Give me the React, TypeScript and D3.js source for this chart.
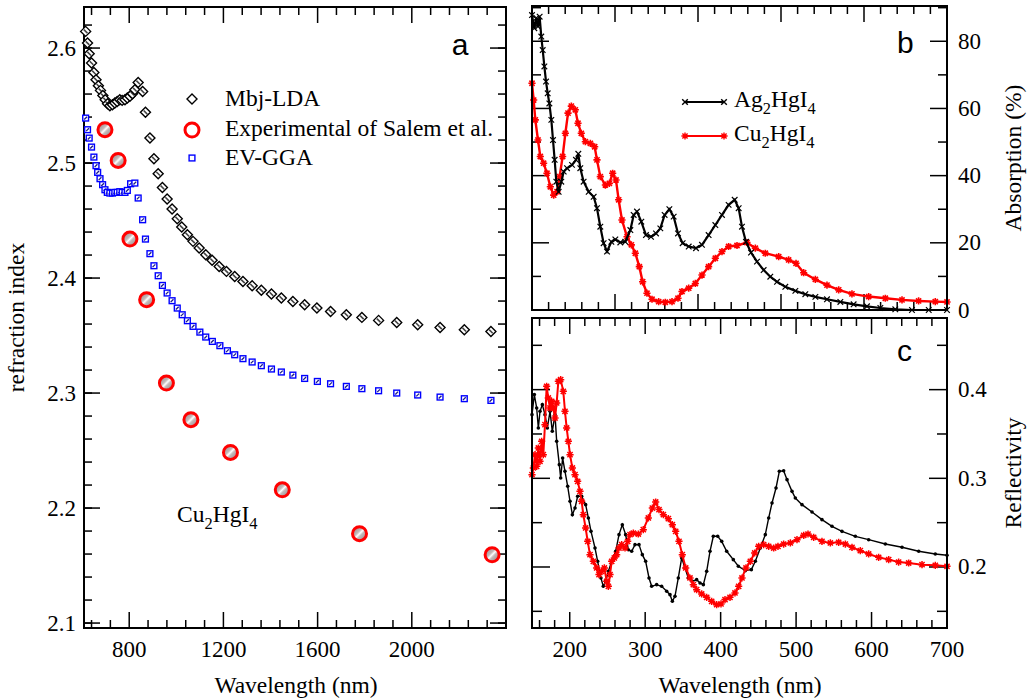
import React, { useEffect, useRef } from 'react';
import * as d3 from 'd3';

// ---- panel a: refraction index of Cu2HgI4 vs wavelength (nm)
const mbjLda: [number, number][] = [
  [615, 2.6145], [623, 2.6043], [630, 2.5951], [640, 2.587], [650, 2.5788], [659, 2.5725],
  [669, 2.5672], [678, 2.5632], [688, 2.5588], [698, 2.5551], [708, 2.5516], [718, 2.5499],
  [729, 2.5507], [739, 2.5522], [749, 2.5536], [760, 2.5551], [770, 2.5545], [782, 2.5551],
  [792, 2.5565], [803, 2.558], [814, 2.5603], [824, 2.5638], [838, 2.5701], [857, 2.5623],
  [869, 2.5441], [888, 2.5217], [905, 2.5038], [923, 2.4907], [941, 2.4788], [961, 2.4687],
  [982, 2.46], [1004, 2.4516], [1023, 2.4443], [1047, 2.4377], [1071, 2.4319], [1097, 2.4261],
  [1125, 2.4203], [1152, 2.4154], [1182, 2.4101], [1213, 2.4058], [1248, 2.4014], [1283, 2.3971],
  [1322, 2.3933], [1361, 2.3893], [1404, 2.3861], [1446, 2.3826], [1495, 2.3797], [1545, 2.3768],
  [1597, 2.3739], [1655, 2.371], [1722, 2.3681], [1788, 2.3658], [1859, 2.3632], [1936, 2.3614],
  [2025, 2.3594], [2120, 2.3571], [2223, 2.3551], [2336, 2.3536],
];

const evGga: [number, number][] = [
  [615, 2.5391], [623, 2.529], [630, 2.5217], [640, 2.5139], [650, 2.5052], [659, 2.4977],
  [666, 2.4919], [676, 2.4864], [687, 2.4812], [697, 2.4768], [707, 2.4745], [718, 2.4739],
  [729, 2.4739], [739, 2.4745], [749, 2.4745], [760, 2.4751], [770, 2.4745], [782, 2.4745],
  [792, 2.4762], [806, 2.482], [824, 2.4826], [838, 2.4696], [857, 2.4507], [869, 2.4339],
  [888, 2.4212], [905, 2.4107], [923, 2.402], [941, 2.3936], [961, 2.387], [982, 2.3803],
  [1004, 2.3739], [1025, 2.3681], [1047, 2.3629], [1071, 2.358], [1100, 2.353], [1125, 2.3487],
  [1153, 2.3449], [1185, 2.3412], [1217, 2.3368], [1248, 2.3333], [1283, 2.3299], [1322, 2.327],
  [1361, 2.3238], [1404, 2.3209], [1446, 2.3183], [1495, 2.3156], [1545, 2.3127], [1599, 2.3101],
  [1655, 2.3081], [1722, 2.3058], [1788, 2.3038], [1859, 2.302], [1936, 2.3], [2025, 2.2983],
  [2120, 2.2965], [2223, 2.2951], [2336, 2.2936],
];

const salemExp: [number, number][] = [
  [697, 2.529], [753, 2.5023], [803, 2.4339], [874, 2.3812], [958, 2.3087],
  [1062, 2.2768], [1230, 2.2484], [1450, 2.2159], [1778, 2.1777], [2341, 2.1594],
];

const aXMajor = [800, 1200, 1600, 2000];
const aYMajor = [2.1, 2.2, 2.3, 2.4, 2.5, 2.6];

// ---- panel b: absorption (%)
const absAg: [number, number][] = [
  [100, 87.8], [102.8, 83.9], [105.2, 86.9], [107.2, 84.4], [109.2, 87.3], [111.2, 81.4],
  [112.9, 77.4], [114.9, 72.5], [116.9, 68], [118.9, 64.5], [120.9, 61.5], [123.3, 56.6],
  [125.3, 50.6], [127.3, 44.7], [129.3, 38.2], [132.1, 35.2], [135.3, 38.2], [138.2, 41.2],
  [142.2, 42.2], [148.2, 43.2], [153, 44.7], [155.8, 46.5], [158.2, 42.2], [162.2, 38.2],
  [168.3, 35.2], [174.3, 33.7], [178.3, 30.3], [182.3, 24.8], [186.3, 19.9], [190.4, 17.4],
  [195.6, 20.3], [200.4, 21], [206.4, 20.1], [212.4, 20.3], [218.5, 23.8], [222.5, 28.3],
  [226.5, 29.3], [231.7, 26.3], [237.3, 22.3], [243.4, 21.8], [249.4, 22.8], [254.6, 24.3],
  [259.8, 28.3], [265.5, 30], [270.7, 27.8], [275.9, 22.8], [281.5, 19.9], [288.8, 18.9],
  [297.6, 18.4], [304.8, 19.4], [312.8, 22.3], [320.9, 25.3], [328.9, 28.3], [336.9, 31.3],
  [344.2, 32.8], [349, 30.3], [353, 24.8], [357.8, 20.3], [363.9, 17.1], [371.1, 14.4],
  [379.1, 11.9], [387.1, 9.9], [395.2, 8.4], [405.2, 6.9], [417.3, 5.7], [429.3, 4.7],
  [441.4, 3.9], [455.4, 3.2], [471.5, 2.4], [487.5, 1.7], [503.6, 1.1], [519.7, 0.6],
  [537.7, 0.2], [557.8, 0], [578, 0], [600, 0],
];

const absCu: [number, number][] = [
  [100, 67.5], [102, 62.5], [104, 56.6], [107.2, 50.6], [110, 45.7], [114, 43.7],
  [118, 40.7], [122.1, 36.7], [126.1, 34.2], [130.1, 35.2], [133.3, 39.7], [136.9, 45.7],
  [140.2, 52.6], [143.4, 58.6], [147.4, 60.7], [152.2, 59.6], [155.4, 55.6], [159.4, 52.6],
  [164.3, 50.1], [170.3, 49.6], [175.5, 48.6], [178.3, 44.7], [182.3, 39.7], [188.4, 37.2],
  [193.2, 37.7], [197.2, 40.7], [201.2, 38.7], [204.4, 32.8], [208.4, 26.8], [214.5, 21.8],
  [219.7, 19.4], [224.5, 16.9], [229.3, 12.9], [233.3, 8.4], [238.5, 5], [244.6, 3.2],
  [252.6, 2.5], [260.6, 2.3], [268.7, 2.5], [275.9, 3.5], [280.7, 5.5], [288.8, 6.5],
  [296.8, 7.9], [304.8, 10.4], [312.8, 12.9], [320.9, 15.4], [328.9, 17.4], [336.9, 18.9],
  [347, 19.2], [359, 20.1], [369.1, 18.4], [381.1, 16.9], [397.2, 15.9], [409.2, 14.9],
  [418.1, 13.9], [427.3, 11.1], [441.4, 9.1], [455.4, 7.4], [469.5, 6], [485.5, 4.8],
  [505.6, 4], [525.7, 3.5], [545.8, 3], [565.8, 2.7], [585.9, 2.5], [600, 2.4],
];

const bYMajor = [0, 20, 40, 60, 80];

// ---- panel c: reflectivity vs wavelength (nm)
const reflAg: [number, number][] = [
  [150, 0.3718], [153.1, 0.3944], [156.2, 0.3793], [158.4, 0.3568], [160.6, 0.3756], [163.7, 0.3831],
  [167.2, 0.3718], [170.3, 0.3568], [173.9, 0.3756], [176.9, 0.353], [180.5, 0.3718], [182.7, 0.3417],
  [186.2, 0.3154], [188, 0.3004], [190.6, 0.3229], [193.7, 0.3079], [197.3, 0.291], [200.4, 0.2741],
  [203.5, 0.259], [207, 0.2665], [210.5, 0.2797], [215.8, 0.2797], [221.1, 0.2703], [224.7, 0.2553],
  [228.2, 0.2402], [233.5, 0.2214], [237, 0.2064], [241.4, 0.1876], [244.5, 0.1782], [247.6, 0.1838],
  [251.2, 0.1951], [255.6, 0.2064], [260.9, 0.2177], [265.3, 0.2365], [269.7, 0.2477], [274.1, 0.2365],
  [277.7, 0.2195], [282.1, 0.2177], [286.5, 0.2252], [291.8, 0.2252], [296.2, 0.2139], [300.6, 0.2064],
  [305.1, 0.1876], [308.6, 0.1782], [315.2, 0.1801], [321.8, 0.1782], [328.5, 0.1726], [332.9, 0.1688],
  [336, 0.1613], [339.5, 0.1669], [343.9, 0.1876], [348.4, 0.2102], [352.8, 0.1989], [357.2, 0.1876],
  [362.5, 0.1838], [368.2, 0.1857], [372.7, 0.182], [377.1, 0.1801], [381.5, 0.1951], [385.9, 0.2177],
  [390.3, 0.2346], [396.1, 0.2346], [401.4, 0.2289], [408, 0.2177], [416.8, 0.2083], [423.5, 0.2008],
  [432.7, 0.1959], [440.7, 0.197], [446, 0.2064], [452.6, 0.2214], [459.2, 0.2365], [463.7, 0.2553],
  [468.1, 0.2722], [473.4, 0.2891], [477.8, 0.3079], [483.5, 0.3086], [488, 0.2985], [494.6, 0.2853],
  [499, 0.2778], [507.8, 0.2703], [521.1, 0.262], [534.3, 0.2534], [547.6, 0.2459], [560.8, 0.2402],
  [578.5, 0.2346], [596.2, 0.2308], [618.3, 0.2259], [640.4, 0.2222], [662.5, 0.2177], [684.5, 0.2147],
  [700, 0.2132],
];

const reflCu: [number, number][] = [
  [150, 0.3041], [151.8, 0.3117], [154, 0.3267], [156.2, 0.3135], [158.4, 0.3342], [160.6, 0.3192],
  [162.8, 0.3417], [165, 0.3267], [167.2, 0.3605], [169.4, 0.4038], [171.6, 0.3906], [173.9, 0.3793],
  [176.1, 0.3868], [178.3, 0.3793], [180.5, 0.368], [182.7, 0.385], [184.9, 0.4094], [188, 0.4113],
  [191.5, 0.3981], [193.7, 0.3756], [195.9, 0.3568], [198.2, 0.3417], [200.4, 0.3267], [203.5, 0.3117],
  [207, 0.3041], [210.5, 0.2966], [213.6, 0.2853], [215.8, 0.2741], [218, 0.259], [221.1, 0.244],
  [223.8, 0.2289], [226.9, 0.2139], [231.3, 0.2064], [235.7, 0.1989], [238.8, 0.1914], [242.3, 0.1951],
  [245.9, 0.1989], [249, 0.1838], [251.2, 0.1782], [253.4, 0.1914], [255.6, 0.2064], [259.1, 0.2102],
  [262.2, 0.2139], [265.3, 0.2214], [268.8, 0.2252], [273.3, 0.2214], [276.8, 0.2289], [279.9, 0.2365],
  [284.3, 0.2383], [290.9, 0.2372], [297.5, 0.2421], [304.2, 0.2553], [309.5, 0.2665], [313.9, 0.2733],
  [318.3, 0.2647], [324.1, 0.259], [330.7, 0.2545], [336, 0.2477], [340.4, 0.2402], [344.8, 0.2289],
  [349.2, 0.2139], [353.7, 0.1989], [359.4, 0.1876], [363.8, 0.1801], [368.2, 0.1744], [374.9, 0.1696],
  [381.5, 0.1658], [388.1, 0.1613], [394.7, 0.1575], [400.5, 0.1583], [405.8, 0.1632], [412.4, 0.1658],
  [419, 0.1707], [423.9, 0.1782], [428.3, 0.1876], [433.6, 0.1989], [439.4, 0.2064], [445.1, 0.2158],
  [450.4, 0.2233], [457, 0.2252], [463.7, 0.2233], [470.3, 0.2214], [476, 0.2233], [483.5, 0.2259],
  [492.4, 0.2271], [501.2, 0.2308], [510.1, 0.2357], [515.8, 0.2372], [523.3, 0.2335], [534.3, 0.2289],
  [545.4, 0.2271], [556.4, 0.2278], [565.3, 0.2259], [574.1, 0.2222], [585.1, 0.2184], [596.2, 0.2147],
  [609.4, 0.2109], [622.7, 0.2083], [635.9, 0.2056], [649.2, 0.2045], [666.9, 0.2026], [684.5, 0.2019],
  [700, 0.2008],
];

const cXMajor = [200, 300, 400, 500, 600, 700];
const cYMajor = [0.2, 0.3, 0.4];

const serif = '"Liberation Serif", "Times New Roman", serif';
const sans = '"Liberation Sans", Arial, sans-serif';
const FS = '23px';      // tick labels
const FT = '23.5px';    // titles and legend

type G = d3.Selection<SVGGElement, unknown, null, undefined>;

// ticks pointing inwards on both opposite sides
function xTicks(g: G, x: d3.ScaleLinear<number, number>, vals: number[], top: number, bottom: number, len: number) {
  vals.forEach(v => {
    g.append('line').attr('x1', x(v)).attr('x2', x(v)).attr('y1', bottom).attr('y2', bottom - len);
    g.append('line').attr('x1', x(v)).attr('x2', x(v)).attr('y1', top).attr('y2', top + len);
  });
}
function yTicks(g: G, y: d3.ScaleLinear<number, number>, vals: number[], left: number, right: number, len: number) {
  vals.forEach(v => {
    g.append('line').attr('y1', y(v)).attr('y2', y(v)).attr('x1', left).attr('x2', left + len);
    g.append('line').attr('y1', y(v)).attr('y2', y(v)).attr('x1', right).attr('x2', right - len);
  });
}

function formula(g: G, x: number, y: number, parts: [string, string], size: number) {
  const t = g.append('text').attr('x', x).attr('y', y)
    .style('font-family', serif).style('font-size', size + 'px');
  t.append('tspan').text(parts[0]);
  t.append('tspan').attr('dy', 7).style('font-size', (size * 0.7) + 'px').text('2');
  t.append('tspan').attr('dy', -7).text(parts[1]);
  t.append('tspan').attr('dy', 7).style('font-size', (size * 0.7) + 'px').text('4');
}

const App: React.FC = () => {
  const ref = useRef<SVGSVGElement | null>(null);

  useEffect(() => {
    if (!ref.current) return;
    const svg = d3.select(ref.current);
    svg.selectAll('*').remove();

    const defs = svg.append('defs');
    const grad = defs.append('linearGradient').attr('id', 'expFill')
      .attr('x1', '0').attr('y1', '0').attr('x2', '1').attr('y2', '1');
    ([[0, '#8c7c7c'], [0.4, '#c4baba'], [0.5, '#ffffff'], [0.6, '#c4baba'], [1, '#8c7c7c']] as [number, string][])
      .forEach(([o, c]) => grad.append('stop').attr('offset', o).attr('stop-color', c));

    // ================= panel a =================
    const A = { x0: 84, x1: 506, y0: 7, y1: 628 };
    const xA = d3.scaleLinear().domain([608, 2400]).range([A.x0, A.x1]);
    const yA = d3.scaleLinear().domain([2.0957, 2.6357]).range([A.y1, A.y0]);
    const ga = svg.append('g');

    const tA = ga.append('g').attr('stroke', '#000').attr('stroke-width', 1.5);
    xTicks(tA, xA, d3.range(640, 2400, 80).filter(v => !aXMajor.includes(v)), A.y0, A.y1, 8);
    xTicks(tA, xA, aXMajor, A.y0, A.y1, 16);
    yTicks(tA, yA, d3.range(2.1, 2.635, 0.02), A.x0, A.x1, 8);
    yTicks(tA, yA, aYMajor, A.x0, A.x1, 16);
    ga.append('rect').attr('x', A.x0).attr('y', A.y0).attr('width', A.x1 - A.x0).attr('height', A.y1 - A.y0)
      .attr('fill', 'none').attr('stroke', '#000').attr('stroke-width', 2);

    ga.selectAll('.ylab').data(aYMajor).enter().append('text')
      .attr('x', 76).attr('y', d => yA(d)).attr('text-anchor', 'end').attr('dominant-baseline', 'central')
      .style('font-family', serif).style('font-size', FS).text(d => d.toFixed(1));
    ga.selectAll('.xlab').data(aXMajor).enter().append('text')
      .attr('x', d => xA(d)).attr('y', 657).attr('text-anchor', 'middle')
      .style('font-family', serif).style('font-size', FS).text(d => d);
    ga.append('text').attr('x', 296).attr('y', 693).attr('text-anchor', 'middle')
      .style('font-family', serif).style('font-size', FT).text('Wavelength (nm)');
    ga.append('text').attr('transform', `translate(24,${(A.y0 + A.y1) / 2}) rotate(-90)`).attr('text-anchor', 'middle')
      .style('font-family', serif).style('font-size', FT).text('refraction index');

    const diamond = 'M0,-5L5,0L0,5L-5,0Z';
    const dA = ga.append('g');
    mbjLda.forEach(([l, n]) => {
      const p = dA.append('g').attr('transform', `translate(${xA(l)},${yA(n)})`);
      p.append('path').attr('d', diamond).attr('fill', '#fff').attr('stroke', '#000').attr('stroke-width', 1.4);
      p.append('path').attr('d', 'M-1.8,-1.8L1.8,1.8').attr('stroke', '#444').attr('stroke-width', 1.6);
    });
    evGga.forEach(([l, n]) => {
      const p = dA.append('g').attr('transform', `translate(${xA(l)},${yA(n)})`);
      p.append('rect').attr('x', -2.9).attr('y', -2.9).attr('width', 5.8).attr('height', 5.8)
        .attr('fill', '#fff').attr('stroke', '#0000ff').attr('stroke-width', 1.4);
      p.append('path').attr('d', 'M-1.4,1.4L1.4,-1.4').attr('stroke', '#1a1a8a').attr('stroke-width', 1.3);
    });
    salemExp.forEach(([l, n]) => {
      dA.append('circle').attr('cx', xA(l)).attr('cy', yA(n)).attr('r', 7)
        .attr('fill', 'url(#expFill)').attr('stroke', '#ff0000').attr('stroke-width', 3);
    });

    // legend a
    const lg = ga.append('g');
    lg.append('path').attr('d', diamond).attr('transform', 'translate(192,99)')
      .attr('fill', '#fff').attr('stroke', '#000').attr('stroke-width', 1.4);
    lg.append('circle').attr('cx', 192).attr('cy', 130).attr('r', 7)
      .attr('fill', '#fff').attr('stroke', '#ff0000').attr('stroke-width', 3);
    lg.append('rect').attr('x', 189.1).attr('y', 155.1).attr('width', 5.8).attr('height', 5.8)
      .attr('fill', '#fff').attr('stroke', '#0000ff').attr('stroke-width', 1.4);
    [['Mbj-LDA', 106], ['Experimental of Salem et al.', 136], ['EV-GGA', 165]].forEach(([t, y]) => {
      lg.append('text').attr('x', 225).attr('y', y as number)
        .style('font-family', serif).style('font-size', FT).text(t as string);
    });
    formula(ga, 177, 522, ['Cu', 'HgI'], 23.5);
    ga.append('text').attr('x', 460).attr('y', 55).attr('text-anchor', 'middle')
      .style('font-family', sans).style('font-size', '30px').text('a');

    // ================= panel b =================
    const B = { x0: 532, x1: 947, y0: 6, y1: 310 };
    const xB = d3.scaleLinear().domain([100, 600]).range([B.x0, B.x1]);
    const yB = d3.scaleLinear().domain([0, 90.5]).range([B.y1, B.y0]);
    const gb = svg.append('g');
    const tB = gb.append('g').attr('stroke', '#000').attr('stroke-width', 1.5);
    xTicks(tB, xB, d3.range(120, 600, 20).filter(v => v % 100 !== 0), B.y0, B.y1, 8);
    xTicks(tB, xB, [200, 300, 400, 500], B.y0, B.y1, 16);
    yTicks(tB, yB, [10, 30, 50, 70, 90], B.x0, B.x1, 9);
    yTicks(tB, yB, bYMajor, B.x0, B.x1, 17);

    const lineB = d3.line<[number, number]>().x(d => xB(d[0])).y(d => yB(d[1]));
    const star = 'M-3.6,0H3.6M0,-3.6V3.6M-2.6,-2.6L2.6,2.6M-2.6,2.6L2.6,-2.6';
    const cross = 'M-2.8,-2.8L2.8,2.8M-2.8,2.8L2.8,-2.8';

    gb.append('path').datum(absCu).attr('d', lineB).attr('fill', 'none').attr('stroke', '#ff0000').attr('stroke-width', 2.4);
    gb.append('g').selectAll('path').data(absCu).enter().append('path')
      .attr('transform', d => `translate(${xB(d[0])},${yB(d[1])})`).attr('d', star)
      .attr('stroke', '#ff0000').attr('stroke-width', 1.6);
    gb.append('path').datum(absAg).attr('d', lineB).attr('fill', 'none').attr('stroke', '#000').attr('stroke-width', 2.2);
    gb.append('g').selectAll('path').data(absAg).enter().append('path')
      .attr('transform', d => `translate(${xB(d[0])},${yB(d[1])})`).attr('d', cross)
      .attr('stroke', '#000').attr('stroke-width', 1.2);

    gb.append('rect').attr('x', B.x0).attr('y', B.y0).attr('width', B.x1 - B.x0).attr('height', B.y1 - B.y0)
      .attr('fill', 'none').attr('stroke', '#000').attr('stroke-width', 2);
    gb.selectAll('.ylab').data(bYMajor).enter().append('text')
      .attr('x', 958).attr('y', d => yB(d)).attr('dominant-baseline', 'central')
      .style('font-family', serif).style('font-size', FS).text(d => d);
    gb.append('text').attr('transform', `translate(1021,158) rotate(-90)`).attr('text-anchor', 'middle')
      .style('font-family', serif).style('font-size', FT).text('Absorption (%)');
    gb.append('text').attr('x', 897).attr('y', 53)
      .style('font-family', sans).style('font-size', '30px').text('b');

    // legend b
    ([['#000', cross, 102, ['Ag', 'HgI']], ['#ff0000', star, 136, ['Cu', 'HgI']]] as [string, string, number, [string, string]][])
      .forEach(([col, mk, y, parts]) => {
        gb.append('line').attr('x1', 685).attr('x2', 724).attr('y1', y).attr('y2', y)
          .attr('stroke', col).attr('stroke-width', 2.2);
        [685, 724].forEach(x => gb.append('path').attr('d', mk).attr('transform', `translate(${x},${y})`)
          .attr('stroke', col).attr('stroke-width', 1.4));
        formula(gb, 734, y + 5, parts, 23.5);
      });

    // ================= panel c =================
    const C = { x0: 532, x1: 947, y0: 318, y1: 628 };
    const xC = d3.scaleLinear().domain([150, 700]).range([C.x0, C.x1]);
    const yC = d3.scaleLinear().domain([0.1312, 0.4808]).range([C.y1, C.y0]);
    const gc = svg.append('g');
    const tC = gc.append('g').attr('stroke', '#000').attr('stroke-width', 1.5);
    xTicks(tC, xC, d3.range(160, 700, 20).filter(v => v % 100 !== 0), C.y0, C.y1, 8);
    xTicks(tC, xC, cXMajor, C.y0, C.y1, 16);
    yTicks(tC, yC, [0.15, 0.25, 0.35, 0.45], C.x0, C.x1, 10);
    yTicks(tC, yC, cYMajor, C.x0, C.x1, 18);

    const lineC = d3.line<[number, number]>().x(d => xC(d[0])).y(d => yC(d[1]));
    gc.append('path').datum(reflAg).attr('d', lineC).attr('fill', 'none').attr('stroke', '#000').attr('stroke-width', 1.4);
    gc.append('g').selectAll('circle').data(reflAg).enter().append('circle')
      .attr('cx', d => xC(d[0])).attr('cy', d => yC(d[1])).attr('r', 1.8).attr('fill', '#000');
    gc.append('path').datum(reflCu).attr('d', lineC).attr('fill', 'none').attr('stroke', '#ff0000').attr('stroke-width', 2);
    gc.append('g').selectAll('path').data(reflCu).enter().append('path')
      .attr('transform', d => `translate(${xC(d[0])},${yC(d[1])})`).attr('d', star)
      .attr('stroke', '#ff0000').attr('stroke-width', 1.5);

    gc.append('rect').attr('x', C.x0).attr('y', C.y0).attr('width', C.x1 - C.x0).attr('height', C.y1 - C.y0)
      .attr('fill', 'none').attr('stroke', '#000').attr('stroke-width', 2);
    gc.selectAll('.ylab').data(cYMajor).enter().append('text')
      .attr('x', 958).attr('y', d => yC(d)).attr('dominant-baseline', 'central')
      .style('font-family', serif).style('font-size', FS).text(d => d.toFixed(1));
    gc.selectAll('.xlab').data(cXMajor).enter().append('text')
      .attr('x', d => xC(d)).attr('y', 657).attr('text-anchor', 'middle')
      .style('font-family', serif).style('font-size', FS).text(d => d);
    gc.append('text').attr('x', 740).attr('y', 693).attr('text-anchor', 'middle')
      .style('font-family', serif).style('font-size', FT).text('Wavelength (nm)');
    gc.append('text').attr('transform', `translate(1021,473) rotate(-90)`).attr('text-anchor', 'middle')
      .style('font-family', serif).style('font-size', FT).text('Reflectivity');
    gc.append('text').attr('x', 897).attr('y', 361)
      .style('font-family', sans).style('font-size', '30px').text('c');
  }, []);

  return (
    <svg ref={ref} width={1033} height={700}
      style={{ position: 'absolute', left: 0, top: 0, background: '#fff' }} />
  );
};

export default App;
